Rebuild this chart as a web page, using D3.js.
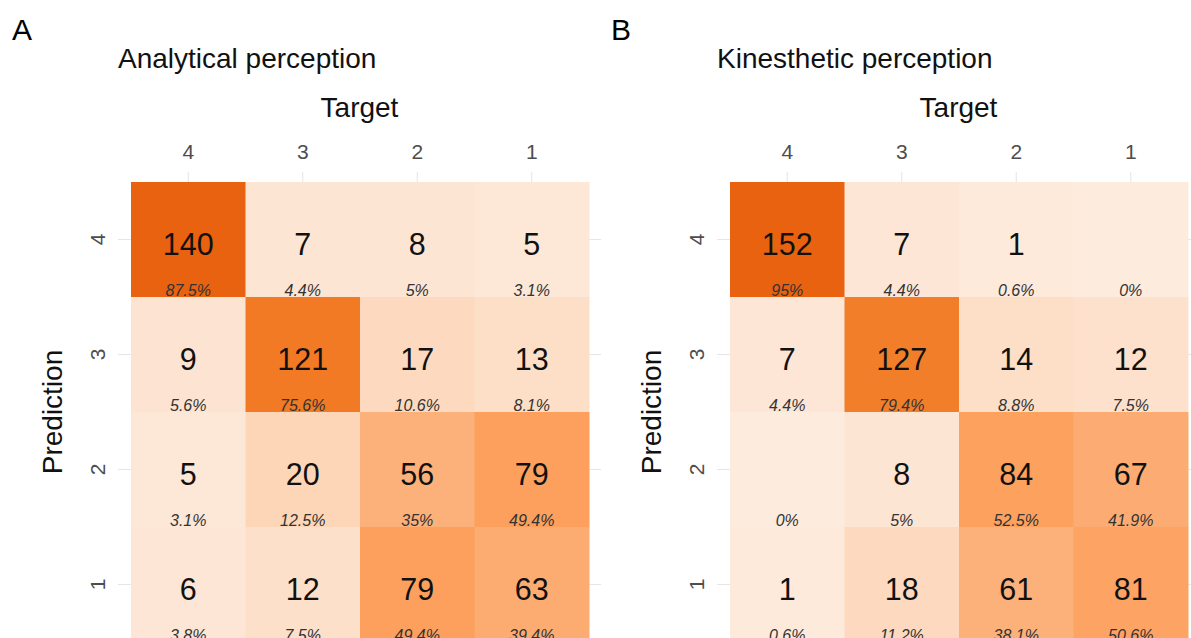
<!DOCTYPE html>
<html>
<head>
<meta charset="utf-8">
<script src="https://cdn.jsdelivr.net/npm/d3@7"></script>
<style>
  html, body { margin: 0; padding: 0; background: #ffffff; }
  svg { display: block; font-family: "Liberation Sans", Arial, sans-serif; }
</style>
</head>
<body>
<svg id="chart" width="1191" height="638"></svg>
<script>
// Class labels (columns = target, rows = prediction)
const targets = ["4", "3", "2", "1"];
const predictions = ["4", "3", "2", "1"];

// Confusion counts, one row per predicted class (4, 3, 2, 1), columns by target (4, 3, 2, 1)
const analyticalCounts = [
  [140, 7, 8, 5],
  [9, 121, 17, 13],
  [5, 20, 56, 79],
  [6, 12, 79, 63]
];
const kinestheticCounts = [
  [152, 7, 1, 0],
  [7, 127, 14, 12],
  [0, 8, 84, 67],
  [1, 18, 61, 81]
];

const panelLetters = ["A", "B"];
const panelTitles = ["Analytical perception", "Kinesthetic perception"];
const xTitle = "Target";
const yTitle = "Prediction";

// Peach-to-orange ramp for the tiles
const rampStops = [0, 0.111, 0.21, 0.48, 0.63, 0.89, 1];
const rampColors = ["#fdebdd", "#fde4d2", "#fdd6b8", "#fcb07a", "#fda05e", "#f27a24", "#e8620f"];

const svg = d3.select("#chart");

// Round to one decimal using half-to-even, then drop trailing zeros
function pctLabel(p) {
  const v = p * 10;
  const f = Math.floor(v);
  const diff = v - f;
  let r;
  if (Math.abs(diff - 0.5) < 1e-9) r = (f % 2 === 0) ? f : f + 1;
  else r = Math.round(v);
  return String(r / 10) + "%";
}

const ramp = d3.scaleLinear().domain(rampStops).range(rampColors).interpolate(d3.interpolateLab);

function drawPanel(offsetX, letter, title, counts) {
  const g = svg.append("g").attr("transform", `translate(${offsetX},0)`);

  const panelLeft = 118, panelRight = 601, panelTop = 172, panelBottom = 660;
  const x = d3.scaleBand().domain(targets).range([131, 589]);
  const y = d3.scaleBand().domain(predictions).range([182, 642]);

  // Fill shade follows the cell count, scaled to the panel's largest cell
  const maxCount = d3.max(counts.flat());
  const shade = d3.scalePow().exponent(0.8).domain([0, maxCount]).range([0, 1]);
  const fillFor = c => ramp(shade(c));

  // Column totals give the per-target percentages
  const colTotals = targets.map((t, j) => d3.sum(counts, row => row[j]));
  const cells = [];
  predictions.forEach((p, i) => {
    targets.forEach((t, j) => {
      cells.push({ pred: p, target: t, count: counts[i][j], pct: 100 * counts[i][j] / colTotals[j] });
    });
  });

  // Grid lines
  const grid = g.append("g").attr("stroke", "#e6e6e6").attr("stroke-width", 1.1);
  grid.selectAll(".vx").data(targets).join("line")
    .attr("x1", d => x(d) + x.bandwidth() / 2).attr("x2", d => x(d) + x.bandwidth() / 2)
    .attr("y1", panelTop).attr("y2", panelBottom);
  grid.selectAll(".hy").data(predictions).join("line")
    .attr("x1", panelLeft).attr("x2", panelRight)
    .attr("y1", d => y(d) + y.bandwidth() / 2).attr("y2", d => y(d) + y.bandwidth() / 2);

  // Tiles
  g.append("g").selectAll("rect").data(cells).join("rect")
    .attr("x", d => x(d.target))
    .attr("y", d => y(d.pred))
    .attr("width", x.bandwidth() + 0.5)
    .attr("height", y.bandwidth() + 0.5)
    .attr("fill", d => fillFor(d.count));

  // Count labels (empty cells show only the percentage)
  g.append("g").selectAll("text").data(cells.filter(d => d.count > 0)).join("text")
    .attr("x", d => x(d.target) + x.bandwidth() / 2)
    .attr("y", d => y(d.pred) + y.bandwidth() / 2 + 15.5)
    .attr("text-anchor", "middle")
    .attr("font-size", 30.5)
    .attr("fill", "#111")
    .text(d => d.count);

  // Percentage labels
  g.append("g").selectAll("text").data(cells).join("text")
    .attr("x", d => x(d.target) + x.bandwidth() / 2)
    .attr("y", d => y(d.pred) + y.bandwidth() - 1.5)
    .attr("text-anchor", "middle")
    .attr("font-size", 16)
    .attr("font-style", "italic")
    .attr("fill", "#333")
    .text(d => pctLabel(d.pct));

  // Axis tick labels
  g.append("g").selectAll("text").data(targets).join("text")
    .attr("x", d => x(d) + x.bandwidth() / 2)
    .attr("y", 159)
    .attr("text-anchor", "middle")
    .attr("font-size", 21)
    .attr("fill", "#4d4d4d")
    .text(d => d);
  g.append("g").selectAll("text").data(predictions).join("text")
    .attr("transform", d => `translate(105,${y(d) + y.bandwidth() / 2}) rotate(-90)`)
    .attr("text-anchor", "middle")
    .attr("font-size", 21)
    .attr("fill", "#4d4d4d")
    .text(d => d);

  // Axis titles
  g.append("text")
    .attr("x", (panelLeft + panelRight) / 2)
    .attr("y", 117)
    .attr("text-anchor", "middle")
    .attr("font-size", 28)
    .attr("fill", "#111")
    .text(xTitle);
  g.append("text")
    .attr("transform", `translate(62,${(182 + 642) / 2}) rotate(-90)`)
    .attr("text-anchor", "middle")
    .attr("font-size", 28)
    .attr("fill", "#111")
    .text(yTitle);

  // Panel title and letter
  g.append("text")
    .attr("x", panelLeft)
    .attr("y", 68)
    .attr("font-size", 28)
    .attr("fill", "#111")
    .text(title);
  g.append("text")
    .attr("x", 12)
    .attr("y", 40)
    .attr("font-size", 30)
    .attr("fill", "#000")
    .text(letter);
}

drawPanel(0, panelLetters[0], panelTitles[0], analyticalCounts);
drawPanel(599, panelLetters[1], panelTitles[1], kinestheticCounts);
</script>
</body>
</html>
